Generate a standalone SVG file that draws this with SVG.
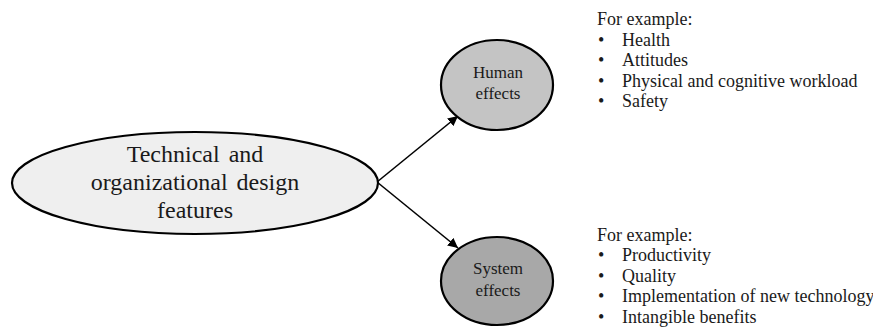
<svg xmlns="http://www.w3.org/2000/svg" width="873" height="327" viewBox="0 0 873 327">
<style>
.node ellipse{stroke:#000;stroke-width:2.2}
.t{font-family:"Liberation Serif","Times New Roman",serif;fill:#1a1a1a}
.big{font-size:24px;text-anchor:middle;word-spacing:3px}
.mid{font-size:17px;text-anchor:middle}
.list{font-size:18px}
.conn line{stroke:#000;stroke-width:1.6}
</style>
<defs>
<marker id="ah" viewBox="0 0 10 10" refX="10" refY="5" markerWidth="10" markerHeight="10" markerUnits="userSpaceOnUse" orient="auto">
<path d="M0,0 L10,5 L0,10 z" fill="#000"/>
</marker>
</defs>
<rect width="873" height="327" fill="#fff"/>
<g id="connectors" class="conn">
<line x1="377" y1="182" x2="458" y2="116" marker-end="url(#ah)"/>
<line x1="377" y1="182" x2="458" y2="248" marker-end="url(#ah)"/>
</g>
<g id="design-features" class="node">
<ellipse cx="195" cy="183" rx="183" ry="51" fill="#efefef"/>
<text class="t big" x="195" y="162">Technical and</text>
<text class="t big" x="195" y="190">organizational design</text>
<text class="t big" x="195" y="218">features</text>
</g>
<g id="human-effects" class="node">
<ellipse cx="497" cy="85" rx="56" ry="45" fill="#c4c4c4"/>
<text class="t mid" x="498" y="78">Human</text>
<text class="t mid" x="498" y="99">effects</text>
</g>
<g id="system-effects" class="node">
<ellipse cx="497" cy="281" rx="56" ry="44" fill="#a8a8a8"/>
<text class="t mid" x="498" y="274">System</text>
<text class="t mid" x="498" y="296">effects</text>
</g>
<g id="human-examples" class="t list">
<text x="597" y="25">For example:</text>
<text x="598" y="46">•</text><text x="622" y="46">Health</text>
<text x="598" y="66">•</text><text x="622" y="66">Attitudes</text>
<text x="598" y="87">•</text><text x="622" y="87">Physical and cognitive workload</text>
<text x="598" y="107">•</text><text x="622" y="107">Safety</text>
</g>
<g id="system-examples" class="t list">
<text x="597" y="241">For example:</text>
<text x="598" y="261">•</text><text x="622" y="261">Productivity</text>
<text x="598" y="282">•</text><text x="622" y="282">Quality</text>
<text x="598" y="302">•</text><text x="622" y="302">Implementation of new technology</text>
<text x="598" y="323">•</text><text x="622" y="323">Intangible benefits</text>
</g>
</svg>
